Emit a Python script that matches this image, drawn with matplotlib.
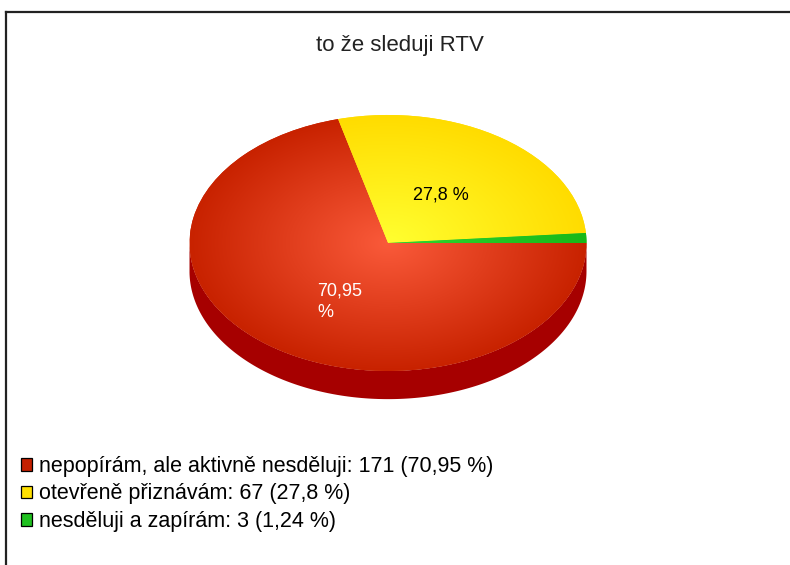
import matplotlib.pyplot as plt
import numpy as np
from matplotlib.patches import Patch
from matplotlib.lines import Line2D
from matplotlib.colors import to_rgb

plt.rcParams['font.family'] = ['Liberation Sans', 'DejaVu Sans']

# data
title = "to že sleduji RTV"
categories = ["nepopírám, ale aktivně nesděluji", "otevřeně přiznávám", "nesděluji a zapírám"]
counts = [171, 67, 3]
edge_colors = ["#c82200", "#ffdc00", "#18b818"]
center_colors = ["#fa5a3a", "#ffff30", "#30d830"]
side_colors = ["#a60000", "#c8a800", "#108010"]
legend_colors = ["#c42000", "#ffe000", "#20c020"]
label_colors = ["white", "black", "black"]

total = sum(counts)
pcts = [c / total * 100 for c in counts]


def fmt(p):
    return f"{round(p, 2):g}".replace(".", ",")


fig = plt.figure(figsize=(7.9, 5.65), dpi=100)
W, H = 790, 565

# frame lines (top and left)
fig.add_artist(Line2D([6 / W, 1], [1 - 12 / H, 1 - 12 / H], color="#222222", lw=1.6, transform=fig.transFigure))
fig.add_artist(Line2D([6 / W, 6 / W], [1 - 12 / H, 0], color="#222222", lw=1.6, transform=fig.transFigure))

fig.text(400 / W, 1 - 45 / H, title, ha="center", va="center", fontsize=16, color="#222222")

# pie axes: circle radius 1 in data -> ellipse 198.5 x 128 px
ax = fig.add_axes([169.65 / W, (H - 420) / H, 436.7 / W, 320 / H])
depth = 0.22

wedges, _ = ax.pie(counts, colors=edge_colors, startangle=0, counterclock=False,
                   wedgeprops=dict(linewidth=0))
ax.set_aspect("auto")
ax.set_xlim(-1.1, 1.1)
ax.set_ylim(-1.383, 1.117)
ax.axis("off")

# side of the extruded pie
for w, sc in zip(wedges, side_colors):
    t = np.radians(np.linspace(w.theta1, w.theta2, 300))
    t = t[np.sin(t) <= 1e-9]
    if len(t) < 2:
        continue
    xs = np.concatenate([np.cos(t), np.cos(t[::-1])])
    ys = np.concatenate([np.sin(t), np.sin(t[::-1]) - depth])
    ax.fill(xs, ys, color=sc, lw=0, zorder=0.5)

# radial gradient on the top face
gx, gy = np.meshgrid(np.linspace(-1, 1, 300), np.linspace(1, -1, 300))
rr = np.clip(np.hypot(gx, gy), 0, 1)[..., None]
for w, ec, cc in zip(wedges, edge_colors, center_colors):
    img = np.array(to_rgb(cc)) * (1 - rr) + np.array(to_rgb(ec)) * rr
    im = ax.imshow(img, extent=(-1, 1, -1, 1), aspect="auto", zorder=1, interpolation="bilinear")
    im.set_clip_path(w)

# value labels
for w, p, lc in zip(wedges, pcts, label_colors):
    if p < 5:
        continue
    mid = np.radians((w.theta1 + w.theta2) / 2)
    if p < 50:
        ax.text(0.46 * np.cos(mid), 0.46 * np.sin(mid), fmt(p) + " %", ha="center", va="center",
                fontsize=13, color=lc, zorder=3)
    else:
        ax.text(0.58 * np.cos(mid), 0.58 * np.sin(mid), fmt(p) + "\n%", ha="left", va="center",
                multialignment="left", fontsize=13, color=lc, zorder=3, linespacing=1.3)

handles = [Patch(facecolor=c, edgecolor="black", linewidth=0.9) for c in legend_colors]
labels = [f"{cat}: {c} ({fmt(p)} %)" for cat, c, p in zip(categories, counts, pcts)]
fig.legend(handles, labels, loc="upper left", bbox_to_anchor=(21 / W, 1 - 456 / H),
           frameon=False, fontsize=15.5, handlelength=0.52, handleheight=0.52,
           handletextpad=0.33, labelspacing=0.3, borderaxespad=0, borderpad=0)

fig.savefig("out.png", dpi=100)
